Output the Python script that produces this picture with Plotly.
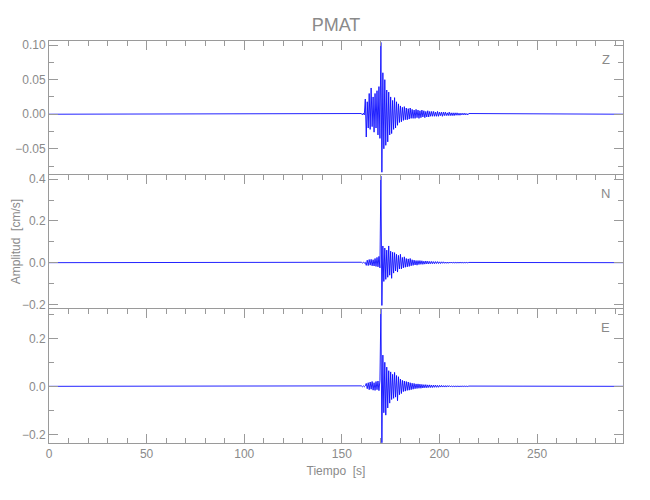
import plotly.graph_objects as go

# ---------------- data ----------------
station = "PMAT"
components = ["Z", "N", "E"]
t_start = 0.0          # record start [s]
t_end = 294.0          # record end [s]
t0 = 160.0             # first sample of the digitised event window [s]
dt = 0.5               # sample spacing of the digitised window [s]

z_vals = [
    0.001, -0.001, 0.0015, -0.001, 0.022, -0.033, 0.018, -0.02, 0.03, -0.022,
    0.038, -0.018, 0.025, -0.026, 0.03, -0.02, 0.034, -0.03, 0.04, -0.035,
    0.104, -0.084, 0.06, -0.05, 0.05, -0.045, 0.035, -0.04, 0.032, -0.03,
    0.025, -0.028, 0.02, -0.022, 0.024, -0.02, 0.018, -0.016, 0.015, -0.012,
    0.012, -0.011, 0.01, -0.009, 0.011, -0.008, 0.009, -0.008, 0.008, -0.007,
    0.009, -0.006, 0.007, -0.006, 0.006,
    -0.006, 0.007, -0.005, 0.006, -0.006, 0.005, -0.005, 0.006, -0.004, 0.005,
    -0.005, 0.004, -0.004, 0.005, -0.004, 0.004, -0.003, 0.004, -0.003, 0.004,
    -0.003, 0.003, -0.003, 0.004, -0.003, 0.003, -0.002, 0.003, -0.003, 0.003,
    -0.002, 0.003, -0.002, 0.002, -0.002, 0.003, -0.002, 0.002, -0.002, 0.002,
    -0.002, 0.002, -0.0015, 0.002, -0.0015, 0.0015, -0.0015, 0.0015, -0.001, 0.0015,
    -0.001, 0.0015, -0.001, 0.001, -0.001, 0.001,
]

n_vals = [
    0.002, -0.002, 0.002, -0.002, 0.002, -0.013, 0.012, -0.014, 0.015, -0.012,
    0.016, -0.015, 0.014, -0.016, 0.02, -0.018, 0.025, -0.02, 0.03, -0.025,
    0.415, -0.205, 0.08, -0.09, 0.07, -0.08, 0.06, -0.07, 0.08, -0.06,
    0.055, -0.075, 0.05, -0.05, 0.048, -0.04, 0.04, -0.045, 0.035, -0.03,
    0.04, -0.03, 0.025, -0.025, 0.028, -0.022, 0.02, -0.02, 0.018, -0.018,
    0.02, -0.015, 0.014, -0.013, 0.012,
    -0.011, 0.01, -0.012, 0.01, -0.009, 0.01, -0.008, 0.009, -0.008, 0.007,
    -0.007, 0.008, -0.006, 0.007, -0.006, 0.006, -0.005, 0.006, -0.005, 0.005,
    -0.005, 0.005, -0.004, 0.005, -0.004, 0.004, -0.004, 0.004, -0.003, 0.004,
    -0.003, 0.003, -0.003, 0.003, -0.003, 0.003, -0.002, 0.003, -0.002, 0.002,
    -0.002, 0.002, -0.002, 0.002, -0.002, 0.002, -0.0015, 0.002, -0.0015, 0.0015,
    -0.0015, 0.0015, -0.001, 0.0015, -0.001, 0.001,
]

e_vals = [
    0.002, -0.002, 0.002, -0.002, 0.002, 0.012, -0.01, 0.015, -0.014, 0.018,
    -0.012, 0.02, -0.016, 0.015, -0.017, 0.02, -0.014, 0.022, -0.018, 0.025,
    0.322, -0.235, 0.13, -0.11, 0.1, -0.12, 0.08, -0.09, 0.065, -0.07,
    0.06, -0.055, 0.05, -0.05, 0.058, -0.045, 0.045, -0.06, 0.04, -0.035,
    0.03, -0.03, 0.025, -0.022, 0.022, -0.02, 0.02, -0.017, 0.018, -0.016,
    0.015, -0.014, 0.013, -0.012, 0.012,
    -0.01, 0.01, -0.009, 0.01, -0.008, 0.009, -0.008, 0.008, -0.007, 0.007,
    -0.006, 0.007, -0.006, 0.006, -0.005, 0.006, -0.005, 0.005, -0.005, 0.005,
    -0.004, 0.005, -0.004, 0.004, -0.004, 0.004, -0.003, 0.004, -0.003, 0.003,
    -0.003, 0.003, -0.003, 0.003, -0.002, 0.003, -0.002, 0.002, -0.002, 0.002,
    -0.002, 0.002, -0.002, 0.002, -0.0015, 0.0015, -0.0015, 0.0015, -0.001, 0.0015,
    -0.001, 0.0015, -0.001, 0.001, -0.001, 0.001,
]

series = [z_vals, n_vals, e_vals]

# ---------------- style ----------------
FONT = "Liberation Sans, Arial, sans-serif"
GRAY = "#8a8a8a"
LINE = "#9a9a9a"
yranges = [[-0.088, 0.106], [-0.222, 0.42], [-0.236, 0.322]]
ydticks = [0.05, 0.2, 0.2]
yminor = [0.025, 0.1, 0.1]
yfmt = [".2f", ".1f", ".1f"]
domains = [[2 / 3, 1.0], [1 / 3, 2 / 3], [0.0, 1 / 3]]

fig = go.Figure()
layout = {}
for i, (comp, vals) in enumerate(zip(components, series)):
    sfx = "" if i == 0 else str(i + 1)
    t = [t_start] + [t0 + k * dt for k in range(len(vals))] + [t_end]
    y = [0.0] + list(vals) + [0.0]
    fig.add_trace(go.Scatter(
        x=t, y=y, mode="lines",
        line=dict(color="rgb(10,10,255)", width=0.9),
        xaxis="x" + sfx, yaxis="y" + sfx, showlegend=False, hoverinfo="skip",
    ))
    last = i == len(components) - 1
    layout["xaxis" + sfx] = dict(
        domain=[0, 1], anchor="y" + sfx, range=[t_start, t_end],
        side="bottom" if last else "top", automargin=False,
        showline=True, linecolor=LINE, linewidth=1,
        mirror="ticks" if last else False,
        ticks="inside", ticklen=9, tickcolor=LINE, tick0=0, dtick=50,
        minor=dict(ticks="inside", ticklen=5, dtick=10, tickcolor=LINE),
        showticklabels=last, showgrid=False, zeroline=False,
        tickfont=dict(family=FONT, size=12, color=GRAY),
        title=dict(text="Tiempo  [s]", font=dict(family=FONT, size=12, color=GRAY), standoff=6) if last else None,
    )
    layout["yaxis" + sfx] = dict(
        domain=domains[i], anchor="x" + sfx, range=yranges[i], automargin=False,
        showline=True, linecolor=LINE, linewidth=1, mirror="ticks",
        ticks="inside", ticklen=9, tickcolor=LINE, tick0=0, dtick=ydticks[i],
        minor=dict(ticks="inside", ticklen=5, dtick=yminor[i], tickcolor=LINE),
        tickformat=yfmt[i], showgrid=False, zeroline=False,
        tickfont=dict(family=FONT, size=12, color=GRAY),
    )
    fig.add_annotation(
        text=comp, xref="x" + sfx + " domain", yref="y" + sfx + " domain",
        x=0.97, y=0.86, showarrow=False, xanchor="center", yanchor="middle",
        font=dict(family=FONT, size=13, color=GRAY),
    )

fig.add_annotation(
    text="Amplitud  [cm/s]", xref="paper", yref="paper", x=-0.057, y=0.5,
    textangle=-90, showarrow=False, xanchor="center", yanchor="middle",
    font=dict(family=FONT, size=12, color=GRAY),
)

# the page adds an 8 px body margin, so margins are shifted to compensate
fig.update_layout(
    **layout,
    width=650, height=500,
    margin=dict(l=41, r=35, t=33, b=65),
    paper_bgcolor="white", plot_bgcolor="white",
    title=dict(text=station, x=0.5, xref="paper", y=1 - 17 / 500, yanchor="middle",
               font=dict(family=FONT, size=18, color=GRAY)),
)

fig.write_html("out.html")
